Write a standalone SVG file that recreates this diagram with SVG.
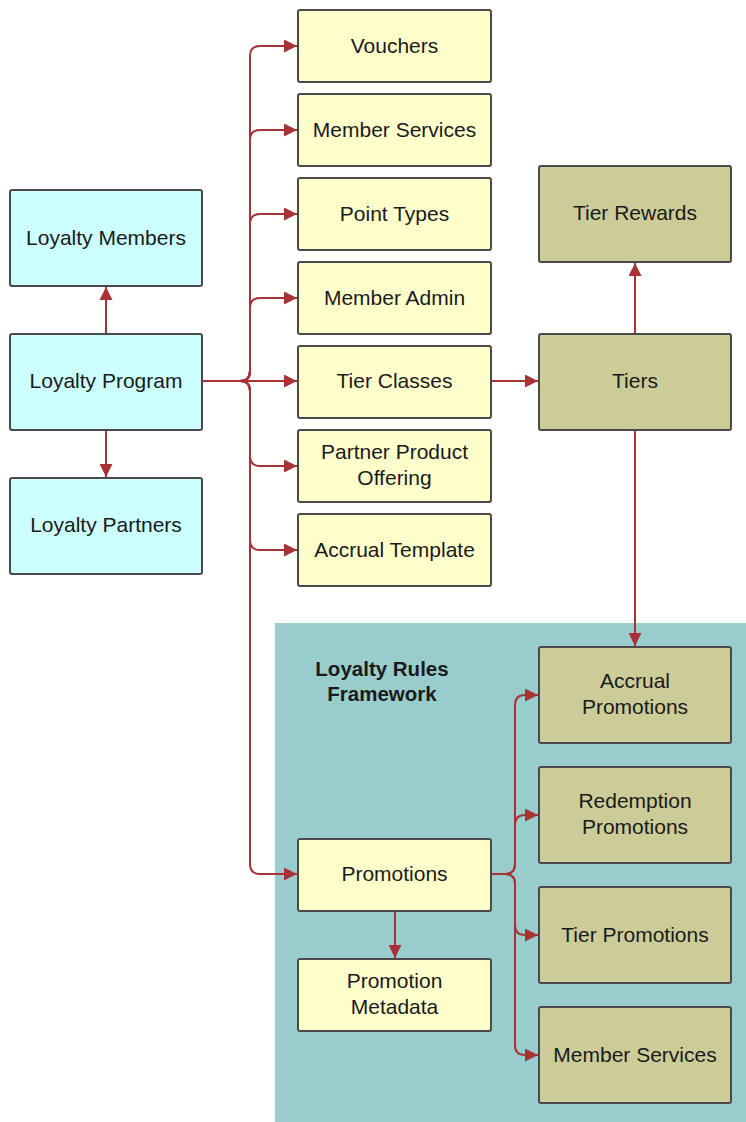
<svg xmlns="http://www.w3.org/2000/svg" width="746" height="1122" viewBox="0 0 746 1122">
<style>
.box{stroke:#4a4a4a;stroke-width:2}
.c{fill:#ccffff}
.y{fill:#ffffcc}
.o{fill:#cccc99}
text{font-family:"Liberation Sans",Arial,sans-serif;font-size:21px;fill:#1a1a1a;text-anchor:middle}
.b{font-weight:bold;font-size:20.5px}
.cn{fill:none;stroke:#a83236;stroke-width:2}
</style>
<defs>
<marker id="ah" markerWidth="13" markerHeight="13" viewBox="0 0 13 13" refX="13" refY="6.5" orient="auto" markerUnits="userSpaceOnUse">
<path d="M0,0 L13,6.5 L0,13 z" fill="#a83236"/>
</marker>
</defs>
<rect x="275" y="623" width="471" height="499" fill="#99cccc"/>
<text class="b" x="382" y="676">Loyalty Rules</text>
<text class="b" x="382" y="701">Framework</text>
<g id="connectors">
<path class="cn" marker-end="url(#ah)" d="M106,334 V287"/>
<path class="cn" marker-end="url(#ah)" d="M106,430 V477"/>
<path class="cn" marker-end="url(#ah)" d="M202,381 H240 Q250,381 250,371 V56 Q250,46 260,46 H297"/>
<path class="cn" marker-end="url(#ah)" d="M202,381 H240 Q250,381 250,371 V140 Q250,130 260,130 H297"/>
<path class="cn" marker-end="url(#ah)" d="M202,381 H240 Q250,381 250,371 V224 Q250,214 260,214 H297"/>
<path class="cn" marker-end="url(#ah)" d="M202,381 H240 Q250,381 250,371 V308 Q250,298 260,298 H297"/>
<path class="cn" marker-end="url(#ah)" d="M202,381 H297"/>
<path class="cn" marker-end="url(#ah)" d="M202,381 H240 Q250,381 250,391 V456 Q250,466 260,466 H297"/>
<path class="cn" marker-end="url(#ah)" d="M202,381 H240 Q250,381 250,391 V540 Q250,550 260,550 H297"/>
<path class="cn" marker-end="url(#ah)" d="M202,381 H240 Q250,381 250,391 V864 Q250,874 260,874 H297"/>
<path class="cn" marker-end="url(#ah)" d="M491,381 H538"/>
<path class="cn" marker-end="url(#ah)" d="M635,334 V263"/>
<path class="cn" marker-end="url(#ah)" d="M635,430 V646"/>
<path class="cn" marker-end="url(#ah)" d="M395,911 V958"/>
<path class="cn" marker-end="url(#ah)" d="M491,874 H505 Q515,874 515,864 V705 Q515,695 525,695 H538"/>
<path class="cn" marker-end="url(#ah)" d="M491,874 H505 Q515,874 515,864 V825 Q515,815 525,815 H538"/>
<path class="cn" marker-end="url(#ah)" d="M491,874 H505 Q515,874 515,884 V925 Q515,935 525,935 H538"/>
<path class="cn" marker-end="url(#ah)" d="M491,874 H505 Q515,874 515,884 V1045 Q515,1055 525,1055 H538"/>
</g>
<g id="loyalty-members"><rect class="box c" x="10" y="190" width="192" height="96" rx="2"/><text x="106" y="245">Loyalty Members</text></g>
<g id="loyalty-program"><rect class="box c" x="10" y="334" width="192" height="96" rx="2"/><text x="106" y="388">Loyalty Program</text></g>
<g id="loyalty-partners"><rect class="box c" x="10" y="478" width="192" height="96" rx="2"/><text x="106" y="532">Loyalty Partners</text></g>
<g id="vouchers"><rect class="box y" x="298" y="10" width="193" height="72" rx="2"/><text x="394.5" y="53">Vouchers</text></g>
<g id="member-services-1"><rect class="box y" x="298" y="94" width="193" height="72" rx="2"/><text x="394.5" y="137">Member Services</text></g>
<g id="point-types"><rect class="box y" x="298" y="178" width="193" height="72" rx="2"/><text x="394.5" y="221">Point Types</text></g>
<g id="member-admin"><rect class="box y" x="298" y="262" width="193" height="72" rx="2"/><text x="394.5" y="305">Member Admin</text></g>
<g id="tier-classes"><rect class="box y" x="298" y="346" width="193" height="72" rx="2"/><text x="394.5" y="388">Tier Classes</text></g>
<g id="partner-product-offering"><rect class="box y" x="298" y="430" width="193" height="72" rx="2"/><text x="394.5" y="459">Partner Product</text><text x="394.5" y="485">Offering</text></g>
<g id="accrual-template"><rect class="box y" x="298" y="514" width="193" height="72" rx="2"/><text x="394.5" y="557">Accrual Template</text></g>
<g id="tier-rewards"><rect class="box o" x="539" y="166" width="192" height="96" rx="2"/><text x="635" y="220">Tier Rewards</text></g>
<g id="tiers"><rect class="box o" x="539" y="334" width="192" height="96" rx="2"/><text x="635" y="388">Tiers</text></g>
<g id="promotions"><rect class="box y" x="298" y="839" width="193" height="72" rx="2"/><text x="394.5" y="881">Promotions</text></g>
<g id="promotion-metadata"><rect class="box y" x="298" y="959" width="193" height="72" rx="2"/><text x="394.5" y="988">Promotion</text><text x="394.5" y="1014">Metadata</text></g>
<g id="accrual-promotions"><rect class="box o" x="539" y="647" width="192" height="96" rx="2"/><text x="635" y="688">Accrual</text><text x="635" y="714">Promotions</text></g>
<g id="redemption-promotions"><rect class="box o" x="539" y="767" width="192" height="96" rx="2"/><text x="635" y="808">Redemption</text><text x="635" y="834">Promotions</text></g>
<g id="tier-promotions"><rect class="box o" x="539" y="887" width="192" height="96" rx="2"/><text x="635" y="942">Tier Promotions</text></g>
<g id="member-services-2"><rect class="box o" x="539" y="1007" width="192" height="96" rx="2"/><text x="635" y="1062">Member Services</text></g>
</svg>
